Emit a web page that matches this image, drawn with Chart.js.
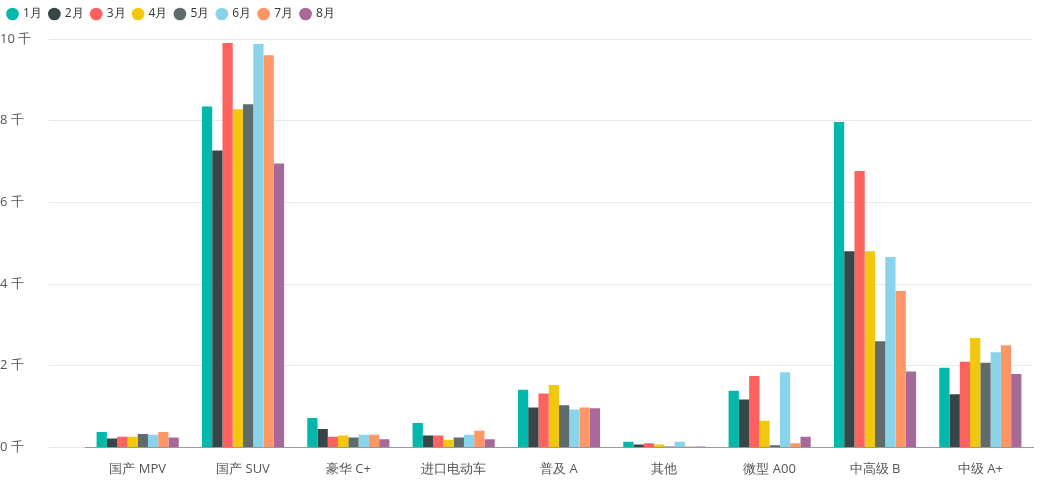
<!DOCTYPE html>
<html><head><meta charset="utf-8">
<script src="https://cdn.jsdelivr.net/npm/chart.js@4/dist/chart.umd.min.js"></script>
<style>html,body{margin:0;padding:0;background:#fff}#w{width:1056px;height:485px}</style>
</head><body><div id="w"><canvas id="c"></canvas></div>
<script>
const categories = ['国产 MPV','国产 SUV','豪华 C+','进口电动车','普及 A','其他','微型 A00','中高级 B','中级 A+'];
const seriesNames = ['1月','2月','3月','4月','5月','6月','7月','8月'];
const m1 = [0.38,8.35,0.72,0.60,1.41,0.14,1.39,7.97,1.95];
const m2 = [0.22,7.27,0.45,0.29,0.98,0.07,1.17,4.80,1.30];
const m3 = [0.26,9.90,0.26,0.29,1.32,0.10,1.75,6.77,2.10];
const m4 = [0.26,8.28,0.29,0.19,1.53,0.07,0.65,4.80,2.68];
const m5 = [0.33,8.40,0.24,0.24,1.03,0.02,0.05,2.60,2.07];
const m6 = [0.31,9.88,0.31,0.31,0.93,0.14,1.84,4.66,2.33];
const m7 = [0.38,9.60,0.31,0.41,0.98,0.02,0.10,3.83,2.50];
const m8 = [0.24,6.95,0.20,0.20,0.96,0.02,0.26,1.86,1.80];
const tickValues = [0,2,4,6,8,10];
const colors = ['#01B8AA','#374649','#FD625E','#F2C80F','#5F6B6D','#8AD4EB','#FE9666','#A66999'];
const all = [m1,m2,m3,m4,m5,m6,m7,m8];
const legendSpace = {id:'ls',beforeInit(chart){const orig=chart.legend.fit;chart.legend.fit=function(){orig.call(this);this.height+=9;};}};
new Chart(document.getElementById('c'),{
 type:'bar',
 plugins:[legendSpace],
 data:{labels:categories,datasets:all.map((d,i)=>({label:seriesNames[i],data:d,backgroundColor:colors[i],categoryPercentage:0.78,barPercentage:1}))},
 options:{responsive:true,maintainAspectRatio:false,animation:false,
  layout:{padding:{left:0,right:23,top:0,bottom:2}},
  plugins:{legend:{position:'top',align:'start',labels:{usePointStyle:true,pointStyle:'circle',boxWidth:9,boxHeight:9,padding:8,font:{family:'Open Sans',size:12},color:'#333'}},tooltip:{enabled:false}},
  scales:{
   x:{grid:{display:false},border:{color:'#999'},ticks:{padding:6,font:{family:'Open Sans',size:13},color:'#555'}},
   y:{min:0,max:10,afterBuildTicks:a=>{a.ticks=tickValues.map(v=>({value:v}));},
      afterFit:s=>{s.width=85;},
      grid:{color:'#e8e8e8',tickLength:36},border:{display:false},
      ticks:{crossAlign:'far',padding:0,font:{family:'Open Sans',size:13},color:'#555',callback:v=>v+' 千'}}
  }}
});
</script></body></html>
